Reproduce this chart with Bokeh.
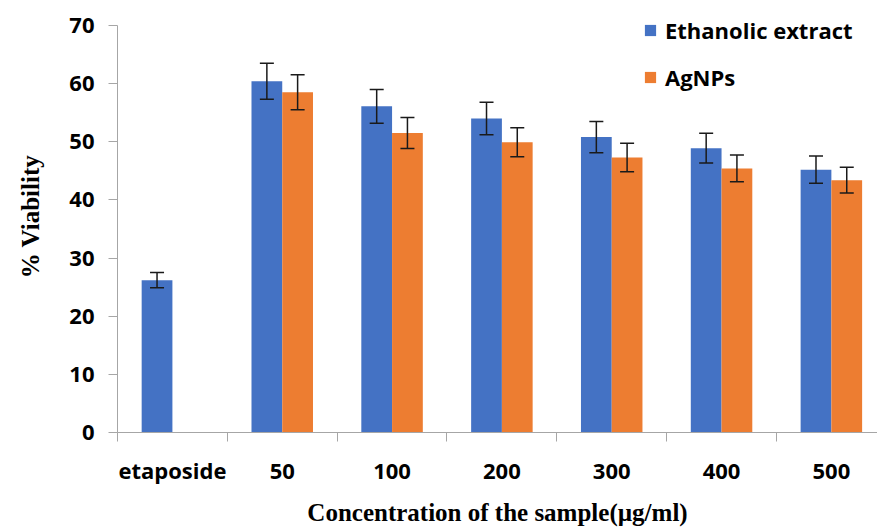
from bokeh.plotting import figure
from bokeh.models import (ColumnDataSource, Range1d, FixedTicker, CustomJSTickFormatter,
                          Whisker, TeeHead, Legend, LegendItem)
from bokeh.embed import file_html
from bokeh.resources import INLINE

categories = ["etaposide", "50", "100", "200", "300", "400", "500"]
ethanolic = [26.2, 60.4, 56.1, 54.0, 50.8, 48.9, 45.2]
ethanolic_err = [1.3, 3.1, 2.9, 2.8, 2.7, 2.55, 2.35]
agnps = [None, 58.5, 51.5, 49.9, 47.3, 45.4, 43.4]
agnps_err = [None, 3.0, 2.65, 2.5, 2.45, 2.3, 2.2]
y_ticks = [0, 10, 20, 30, 40, 50, 60, 70]

BLUE = "#4472C4"
ORANGE = "#ED7D31"
BAR_W = 0.28

def series_source(values, errs, shift):
    xs, tops, up, lo = [], [], [], []
    for i, (v, e) in enumerate(zip(values, errs)):
        if v is None:
            continue
        xs.append(i + 0.5 + shift)
        tops.append(v)
        up.append(v + e)
        lo.append(v - e)
    return ColumnDataSource(dict(x=xs, top=tops, upper=up, lower=lo))

src_e = series_source(ethanolic, ethanolic_err, -BAR_W / 2)
src_a = series_source(agnps, agnps_err, BAR_W / 2)

p = figure(width=877, height=528, output_backend="svg", toolbar_location=None,
           x_range=Range1d(0, 6.92), y_range=Range1d(0, 74.29),
           min_border_left=117, min_border_top=0, min_border_right=0, min_border_bottom=95)
p.outline_line_color = None
p.xgrid.visible = False
p.ygrid.visible = False
p.background_fill_color = "white"
p.border_fill_color = "white"

r_e = p.vbar(x="x", top="top", width=BAR_W, source=src_e, fill_color=BLUE, line_color=None)
r_a = p.vbar(x="x", top="top", width=BAR_W, source=src_a, fill_color=ORANGE, line_color=None)

for src in (src_e, src_a):
    w = Whisker(base="x", upper="upper", lower="lower", source=src, dimension="height",
                level="annotation",
                line_color="#1a1a1a", line_width=1.5,
                upper_head=TeeHead(size=14, line_color="#1a1a1a", line_width=1.5),
                lower_head=TeeHead(size=14, line_color="#1a1a1a", line_width=1.5))
    p.add_layout(w)

TICK_FONT = "Open Sans"
AXIS_COLOR = "#a6a6a6"

# y axis
yax = p.yaxis[0]
yax.ticker = FixedTicker(ticks=y_ticks, minor_ticks=[])
yax.bounds = (0, 70)
yax.axis_line_color = AXIS_COLOR
yax.major_tick_line_color = AXIS_COLOR
yax.major_tick_out = 9
yax.major_tick_in = 0
yax.minor_tick_line_color = None
yax.major_label_text_font = TICK_FONT
yax.major_label_text_font_style = "bold"
yax.major_label_text_font_size = "22px"
yax.major_label_text_color = "#000000"
yax.major_label_standoff = 14
yax.axis_label = "% Viability"
yax.axis_label_text_font = "Liberation Serif"
yax.axis_label_text_font_style = "bold"
yax.axis_label_text_font_size = "25px"
yax.axis_label_text_color = "#000000"
yax.axis_label_standoff = 22

# x axis
xax = p.xaxis[0]
xax.ticker = FixedTicker(ticks=[i + 0.5 for i in range(len(categories))],
                         minor_ticks=list(range(len(categories) + 1)))
xax.formatter = CustomJSTickFormatter(args=dict(labels=categories),
                                      code="return labels[Math.round(tick - 0.5)] || '';")
xax.axis_line_color = AXIS_COLOR
xax.major_tick_line_color = None
xax.major_tick_out = 0
xax.major_tick_in = 0
xax.minor_tick_line_color = AXIS_COLOR
xax.minor_tick_out = 9
xax.minor_tick_in = 0
xax.major_label_text_font = TICK_FONT
xax.major_label_text_font_style = "bold"
xax.major_label_text_font_size = "22px"
xax.major_label_text_color = "#000000"
xax.major_label_standoff = 13
xax.axis_label = "Concentration of the sample(µg/ml)"
xax.axis_label_text_font = "Liberation Serif"
xax.axis_label_text_font_style = "bold"
xax.axis_label_text_font_size = "25px"
xax.axis_label_text_color = "#000000"
xax.axis_label_standoff = 11

legend = Legend(items=[LegendItem(label="Ethanolic extract", renderers=[r_e]),
                       LegendItem(label="AgNPs", renderers=[r_a])],
                location=(526, 340), orientation="vertical",
                glyph_width=14, glyph_height=14, label_height=22, spacing=17,
                padding=0, margin=0, label_standoff=8,
                label_text_font=TICK_FONT, label_text_font_style="bold",
                label_text_font_size="22px", label_text_color="#000000",
                border_line_color=None, background_fill_alpha=0)
p.add_layout(legend)

open("out.html", "w").write(file_html(p, INLINE))
